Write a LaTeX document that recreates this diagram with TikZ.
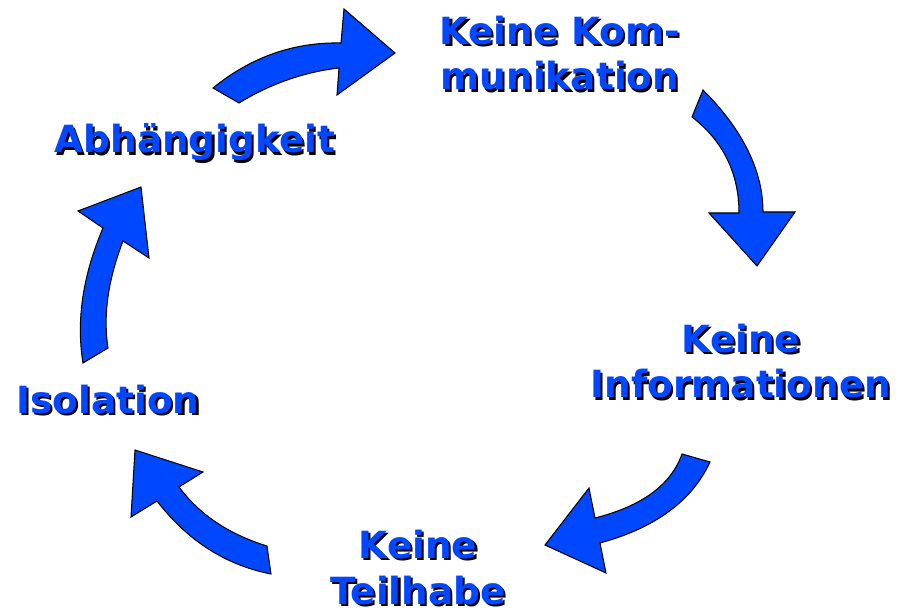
\documentclass[tikz,border=0pt]{standalone}
\usepackage{fontspec}
\setmainfont{DejaVu Sans}
\usepackage{xcolor}
\definecolor{cycleblue}{RGB}{0,72,255}

\begin{document}
\begin{tikzpicture}[
    x=0.02cm, y=-0.02cm,
    every node/.style={font=\bfseries\fontsize{21.3}{25.8}\selectfont, align=center, anchor=base, inner sep=0pt},
    stagetext/.style={text=cycleblue},
    stageshadow/.style={text=black, xshift=1.2pt, yshift=-1.2pt},
    bigarrow/.style={draw=black, fill=cycleblue, line width=0.6pt, line join=miter}
]
\useasboundingbox (0,0) rectangle (903,611);

% arrows of the cycle
\draw[bigarrow] (213,88) .. controls (251,57) and (294,42) .. (341,43) -- (344,9) -- (395,53) -- (337,95) -- (339,68) .. controls (304,72) and (270,84) .. (239,103) -- cycle;
\draw[bigarrow] (703,90) .. controls (743,130) and (763,171) .. (763,212) -- (795,212) -- (757,266) -- (709,213) -- (739,213) .. controls (739,173) and (723,141) .. (692,117) -- cycle;
\draw[bigarrow] (682,454) .. controls (671,485) and (642,506) .. (595,518) -- (589,488) -- (545,545) -- (606,573) -- (600,543) .. controls (655,528) and (692,501) .. (710,462) -- cycle;
\draw[bigarrow] (267,546) .. controls (228,534) and (199,514) .. (179,487) -- (203,472) -- (135,450) -- (131,517) -- (157,501) .. controls (187,540) and (225,565) .. (271,574) -- cycle;
\draw[bigarrow] (83,363) .. controls (76,320) and (83,275) .. (103,228) -- (78,211) -- (141,187) -- (149,258) -- (123,241) .. controls (108,280) and (103,315) .. (108,348) -- cycle;

% stages (base = last line)
\node[stageshadow] (kom-s) at (560,90) {Keine Kom-\\munikation};
\node[stagetext] (kom) at (560,90) {Keine Kom-\\munikation};
\node[stageshadow] (info-s) at (741,398) {Keine\\Informationen};
\node[stagetext] (info) at (741,398) {Keine\\Informationen};
\node[stageshadow] (teil-s) at (418,604) {Keine\\Teilhabe};
\node[stagetext] (teil) at (418,604) {Keine\\Teilhabe};
\node[stageshadow] (iso-s) at (108,413) {Isolation};
\node[stagetext] (iso) at (108,413) {Isolation};
\node[stageshadow] (abh-s) at (195,153) {Abhängigkeit};
\node[stagetext] (abh) at (195,153) {Abhängigkeit};
\end{tikzpicture}
\end{document}
